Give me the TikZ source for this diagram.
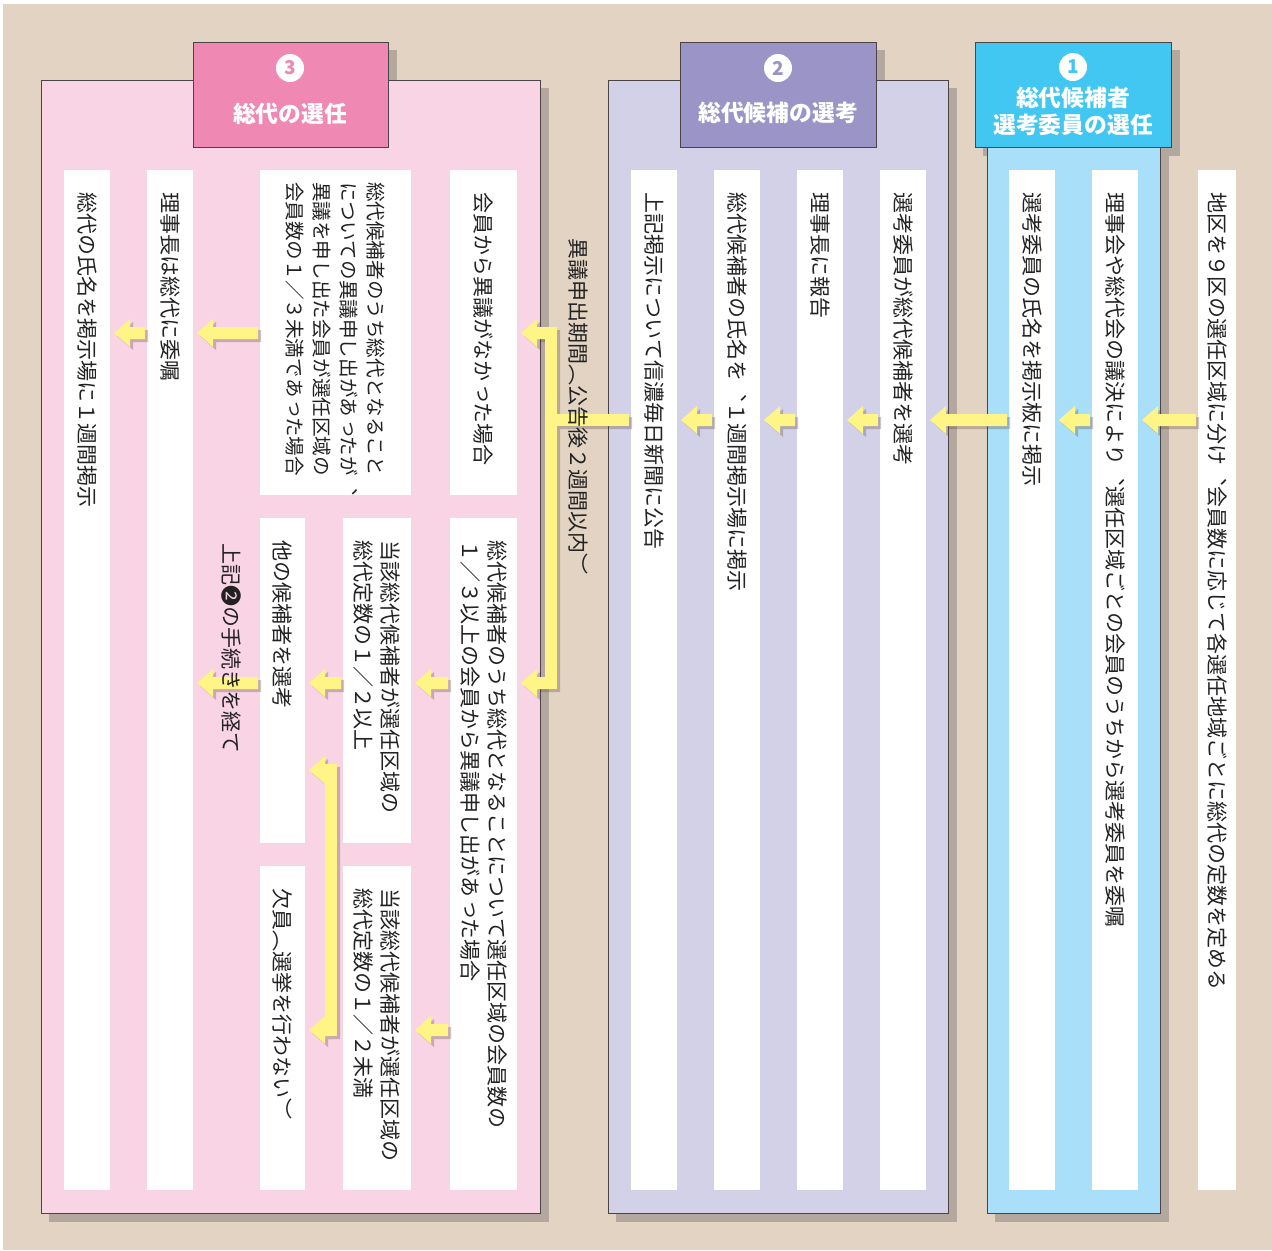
\documentclass[tikz,border=0pt]{standalone}
\usepackage{fontspec}
\usetikzlibrary{calc}
\newfontfamily\vjp[Vertical=RotatedGlyphs]{Noto Sans CJK JP}
\newfontfamily\hjp{Noto Sans CJK JP}
\definecolor{bg}{HTML}{E2D3C3}
\definecolor{shd}{HTML}{B4A79D}
\definecolor{pinkP}{HTML}{F8D4E5}
\definecolor{pinkH}{HTML}{F088B4}
\definecolor{lavP}{HTML}{D3D1E7}
\definecolor{lavH}{HTML}{9B94C7}
\definecolor{bluP}{HTML}{AADFF9}
\definecolor{bluH}{HTML}{42C6F2}
\definecolor{yel}{HTML}{FFF486}
\definecolor{ashd}{HTML}{5A463C}
\definecolor{txt}{HTML}{222222}
\definecolor{edge}{HTML}{4A4448}
\newcommand\halfcomma{\makebox[0.5em][l]{、}}
\newcommand\boxnode[6]{\node[#1, minimum width={(#5-#3)*0.5pt}, minimum height={(#6-#4)*0.5pt}, inner sep=0pt, outer sep=0pt] (#2) at ({(#3+#5)/2},{(#4+#6)/2}) {};}
\newcommand\arrpoly[2]{($(#1)+(0,-6)$) -- ($(#2)+(16,-6)$) -- ($(#2)+(16,-14)$) -- (#2) -- ($(#2)+(16,14)$) -- ($(#2)+(16,6)$) -- ($(#1)+(0,6)$) -- cycle}
\newcommand\yarrow[2]{%
  \path ($(#1)+(3,3)$) coordinate (yaS) ($(#2)+(3,3)$) coordinate (ybS);
  \fill[arrshadow] \arrpoly{yaS}{ybS};
  \fill[arrfill] \arrpoly{#1}{#2};}
\newcommand\linkarrow[3]{%
  \path (#1.west |- 0,#3) ++(-2,0) coordinate (lkT) (#2.east |- 0,#3) ++(4,0) coordinate (lkH);
  \yarrow{lkT}{lkH}}
\begin{document}
\begin{tikzpicture}[x=0.5pt,y=-0.5pt,
  stripbox/.style={fill=white},
  vtext/.style={rotate=-90, anchor=west, inner sep=0pt, outer sep=0pt, text=txt, align=left, font=\vjp\fontsize{10.5pt}{13.6pt}\selectfont},
  vsmall/.style={vtext, font=\vjp\fontsize{9.8pt}{13.6pt}\selectfont},
  htext/.style={text=white, font=\hjp\bfseries\fontsize{11.4pt}{13.5pt}\selectfont, align=center, inner sep=0pt},
  numcirc/.style={circle, fill=white, minimum size=14pt, inner sep=0pt, font=\hjp\bfseries\fontsize{9.5pt}{9.5pt}\selectfont},
  arrfill/.style={fill=yel},
  arrshadow/.style={fill=ashd, fill opacity=0.3},
  panel/.style={draw=edge, line width=0.45pt},
]
\useasboundingbox (0,0) rectangle (1272,1250);
\fill[white] (0,0) rectangle (1272,1250);
\fill[bg] (3,4) rectangle (1272,1250);
% header shadows
\boxnode{fill=shd}{h3s}{201}{50}{397}{156}
\boxnode{fill=shd}{h2s}{688}{50}{885}{156}
\boxnode{fill=shd}{h1s}{983}{50}{1180}{156}
% panel shadows
\boxnode{fill=shd}{p3s}{49}{88}{549}{1222}
\boxnode{fill=shd}{p2s}{616}{88}{957}{1222}
\boxnode{fill=shd}{p1s}{995}{148}{1169}{1222}
% panels
\boxnode{panel, fill=pinkP}{P3}{41}{80}{540}{1213}
\boxnode{panel, fill=lavP}{P2}{608}{80}{948}{1213}
\boxnode{panel, fill=bluP}{P1}{987}{140}{1160}{1213}
% headers
\boxnode{panel, fill=pinkH}{H3}{193}{42}{388}{147}
\boxnode{panel, fill=lavH}{H2}{680}{42}{876}{147}
\boxnode{panel, fill=bluH}{H1}{975}{42}{1171}{147}
\node[numcirc, text=pinkH] (n3) at (290,68) {3};
\node[htext] (h3t) at (290,114) {総代の選任};
\node[numcirc, text=lavH] (n2) at (778,68) {2};
\node[htext] (h2t) at (778,113) {総代候補の選考};
\node[numcirc, text=bluH] (n1) at (1073,67) {1};
\node[htext] (h1t) at (1073,111.5) {総代候補者\\選考委員の選任};
% strips
\boxnode{stripbox}{s1a}{1198}{170}{1236}{1190}
\boxnode{stripbox}{s1b}{1092}{170}{1138}{1190}
\boxnode{stripbox}{s1c}{1009}{170}{1055}{1190}
\boxnode{stripbox}{s2a}{880}{170}{926}{1190}
\boxnode{stripbox}{s2b}{797}{170}{843}{1190}
\boxnode{stripbox}{s2c}{714}{170}{760}{1190}
\boxnode{stripbox}{s2d}{631}{170}{677}{1190}
\boxnode{stripbox}{s3a}{450}{170}{517}{495}
\boxnode{stripbox}{s3b}{260}{170}{411}{495}
\boxnode{stripbox}{s3c}{147}{170}{193}{1190}
\boxnode{stripbox}{s3d}{64}{170}{110}{1190}
\boxnode{stripbox}{s3e}{450}{518}{517}{1190}
\boxnode{stripbox}{s3f}{343}{518}{411}{843}
\boxnode{stripbox}{s3g}{343}{866}{411}{1190}
\boxnode{stripbox}{s3h}{260}{518}{305}{843}
\boxnode{stripbox}{s3i}{260}{866}{305}{1190}
% simple arrows
\linkarrow{s1a}{s1b}{420}
\linkarrow{s1b}{s1c}{420}
\linkarrow{s1c}{s2a}{420}
\linkarrow{s2a}{s2b}{420}
\linkarrow{s2b}{s2c}{420}
\linkarrow{s2c}{s2d}{420}
\linkarrow{s3b}{s3c}{333}
\linkarrow{s3c}{s3d}{333}
\linkarrow{s3e}{s3f}{683}
\linkarrow{s3f}{s3h}{683}
\linkarrow{s3h}{s3c}{683}
\linkarrow{s3e}{s3g}{1030}
% bracket after the newspaper notice
\path (s2d.west |- 0,420) ++(-2,0) coordinate (brIn);
\coordinate (brTop) at (545,327);
\coordinate (brBot) at (557,689);
\coordinate (brT) at (551,333);
\coordinate (brB) at (551,683);
\path (s3a.east |- brT) ++(4,0) coordinate (brTh);
\path (s3e.east |- brB) ++(4,0) coordinate (brBh);
\begin{scope}[transparency group, opacity=0.3]
\fill[ashd] ($(brTop)+(3,3)$) rectangle ($(brBot)+(3,3)$);
\fill[ashd] ($(brIn)+(3,-3)$) rectangle ($(brBot |- brIn)+(3,9)$);
\path ($(brT)+(3,3)$) coordinate (yaS) ($(brTh)+(3,3)$) coordinate (ybS);
\fill[ashd] \arrpoly{yaS}{ybS};
\path ($(brB)+(3,3)$) coordinate (yaS) ($(brBh)+(3,3)$) coordinate (ybS);
\fill[ashd] \arrpoly{yaS}{ybS};
\end{scope}
\fill[arrfill] (brTop) rectangle (brBot);
\fill[arrfill] ($(brIn)+(0,-6)$) rectangle ($(brBot |- brIn)+(0,6)$);
\fill[arrfill] \arrpoly{brT}{brTh};
\fill[arrfill] \arrpoly{brB}{brBh};
% fork after the 1/2-missing case
\coordinate (fkTop) at (325,764);
\coordinate (fkBot) at (337,1036);
\coordinate (fkT) at (331,770);
\coordinate (fkB) at (331,1030);
\path (s3h.east |- fkT) ++(4,0) coordinate (fkTh);
\path (s3i.east |- fkB) ++(4,0) coordinate (fkBh);
\begin{scope}[transparency group, opacity=0.3]
\fill[ashd] ($(fkTop)+(3,3)$) rectangle ($(fkBot)+(3,3)$);
\path ($(fkT)+(3,3)$) coordinate (yaS) ($(fkTh)+(3,3)$) coordinate (ybS);
\fill[ashd] \arrpoly{yaS}{ybS};
\path ($(fkB)+(3,3)$) coordinate (yaS) ($(fkBh)+(3,3)$) coordinate (ybS);
\fill[ashd] \arrpoly{yaS}{ybS};
\end{scope}
\fill[arrfill] (fkTop) rectangle (fkBot);
\fill[arrfill] \arrpoly{fkT}{fkTh};
\fill[arrfill] \arrpoly{fkB}{fkBh};
% texts
\node[vtext] (t1a) at ($(s1a.north)+(0,22)$) {地区を９区の選任区域に分け、会員数に応じて各選任地域ごとに総代の定数を定める};
\node[vtext] (t1b) at ($(s1b.north)+(0,22)$) {理事会や総代会の議決により、選任区域ごとの会員のうちから選考委員を委嘱};
\node[vtext] (t1c) at ($(s1c.north)+(0,22)$) {選考委員の氏名を掲示板に掲示};
\node[vtext] (t2a) at ($(s2a.north)+(0,22)$) {選考委員が総代候補者を選考};
\node[vtext] (t2b) at ($(s2b.north)+(0,22)$) {理事長に報告};
\node[vtext] (t2c) at ($(s2c.north)+(0,22)$) {総代候補者の氏名を、１週間掲示場に掲示};
\node[vtext] (t2d) at ($(s2d.north)+(0,22)$) {上記掲示について信濃毎日新聞に公告};
\node[vtext] (tgap) at (578,238) {異議申出期間（公告後２週間以内）};
\node[vtext] (t3a) at ($(s3a.north)+(0,22)$) {会員から異議がなかった場合};
\node[vsmall] (t3b) at ($(s3b.north)+(0,12)$) {総代候補者のうち総代となること\\についての異議申し出があったが\halfcomma\\異議を申し出た会員が選任区域の\\会員数の１／３未満であった場合};
\node[vtext] (t3c) at ($(s3c.north)+(0,22)$) {理事長は総代に委嘱};
\node[vtext] (t3d) at ($(s3d.north)+(0,22)$) {総代の氏名を掲示場に１週間掲示};
\node[vtext] (t3e) at ($(s3e.north)+(0,22)$) {総代候補者のうち総代となることについて選任区域の会員数の\\１／３以上の会員から異議申し出があった場合};
\node[vtext] (t3f) at ($(s3f.north)+(0,22)$) {当該総代候補者が選任区域の\\総代定数の１／２以上};
\node[vtext] (t3g) at ($(s3g.north)+(0,22)$) {当該総代候補者が選任区域の\\総代定数の１／２未満};
\node[vtext] (t3h) at ($(s3h.north)+(0,22)$) {他の候補者を選考};
\node[vtext] (t3i) at ($(s3i.north)+(0,22)$) {欠員（選挙を行わない）};
\node[vtext] (t3j) at (231,543) {上記❷の手続きを経て};
\end{tikzpicture}
\end{document}
